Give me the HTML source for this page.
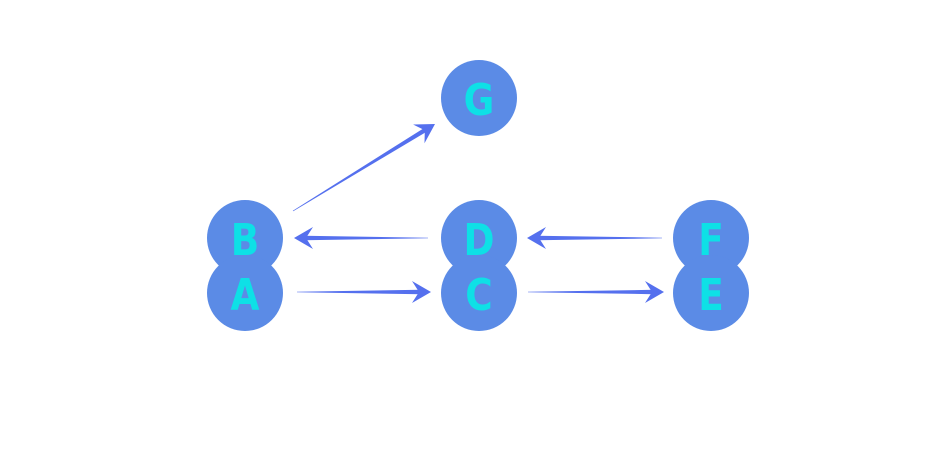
<!DOCTYPE html>
<html><head><meta charset="utf-8"><style>
html,body{margin:0;padding:0;background:#fff;width:935px;height:468px;overflow:hidden}
text{font-family:"DejaVu Sans","Liberation Sans",sans-serif;font-weight:bold;font-size:44px;fill:#0ee0e6;text-anchor:middle;dominant-baseline:central}
</style></head><body>
<svg id="s" width="935" height="468" viewBox="0 0 935 468" xmlns="http://www.w3.org/2000/svg">
<g fill="#5b8be6">
<circle cx="479" cy="98" r="38"/>
<circle cx="245" cy="238" r="38"/><circle cx="245" cy="293" r="38"/>
<circle cx="479" cy="238" r="38"/><circle cx="479" cy="293" r="38"/>
<circle cx="711" cy="238" r="38"/><circle cx="711" cy="293" r="38"/>
</g>
<g transform="scale(0.85,1)">
<text x="563.5" y="100">G</text>
<text x="288.2" y="240">B</text><text x="288.2" y="295">A</text>
<text x="563.5" y="240">D</text><text x="563.5" y="295">C</text>
<text x="836.5" y="240">F</text><text x="836.5" y="295">E</text>
</g>
<g id="arr" fill="#5570ee"></g>
</svg>
<script>
var g=document.getElementById('arr');
function P(pts){var e=document.createElementNS('http://www.w3.org/2000/svg','polygon');
 e.setAttribute('points',pts.map(function(q){return q[0].toFixed(1)+','+q[1].toFixed(1)}).join(' '));g.appendChild(e);}
function arrow(x1,y1,x2,y2){
 var dx=x2-x1,dy=y2-y1,L=Math.hypot(dx,dy),ux=dx/L,uy=dy/L,nx=-uy,ny=ux;
 var w0=0.3,w1=2.2;
 var bx=x2-ux*10,by=y2-uy*10;
 P([[x1+nx*w0,y1+ny*w0],[bx+nx*w1,by+ny*w1],[bx-nx*w1,by-ny*w1],[x1-nx*w0,y1-ny*w0]]);
 function pt(a,b){return [x2-ux*a+nx*b,y2-uy*a+ny*b];}
 P([pt(0,0),pt(19,11),pt(12,0),pt(19,-11)]);
}
arrow(297,292,431,292);
arrow(428,238,294,238);
arrow(528,292,664,292);
arrow(662,238,527,238);
arrow(293,211,435,124);
</script>
</body></html>
